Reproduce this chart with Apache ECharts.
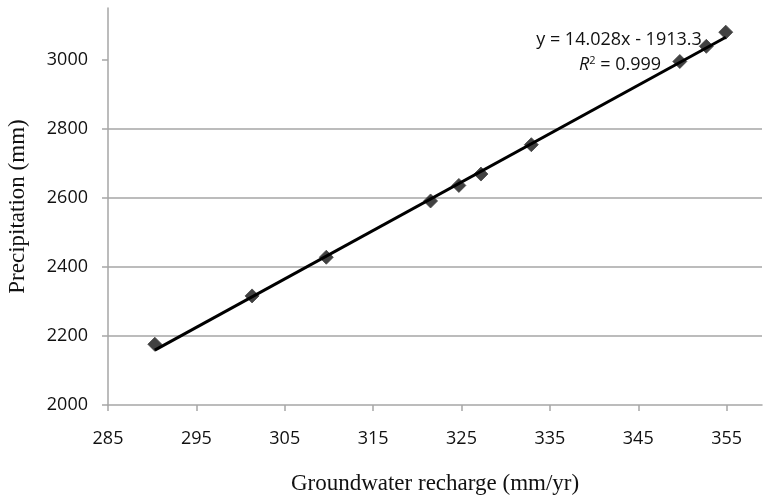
<!DOCTYPE html>
<html>
<head>
<meta charset="utf-8">
<script src="https://cdn.jsdelivr.net/npm/echarts@6/dist/echarts.min.js"></script>
<style>
html,body{margin:0;padding:0;background:#fff;}
#chart{width:763px;height:499px;}
</style>
</head>
<body>
<div id="chart"></div>
<script>
// Data
var recharge = [290.3, 301.3, 309.7, 321.5, 324.7, 327.2, 332.9, 349.7, 352.7, 354.9];
var precipitation = [2176, 2316, 2428, 2591, 2636, 2669, 2754, 2995, 3039, 3080];
var xTicks = [285, 295, 305, 315, 325, 335, 345, 355];
var yTicks = [2000, 2200, 2400, 2600, 2800, 3000];
var slope = 14.028;
var intercept = -1913.3;
var eqLine1 = 'y = 14.028x - 1913.3';
var eqR2 = '0.999';

var points = recharge.map(function (x, i) { return [x, precipitation[i]]; });
var xMin = Math.min.apply(null, recharge), xMax = Math.max.apply(null, recharge);
var trend = [[xMin, slope * xMin + intercept], [xMax, slope * xMax + intercept]];

var chart = echarts.init(document.getElementById('chart'));
var gridCol = '#a6a6a6';
var txt = '#111';
chart.setOption({
  animation: false,
  backgroundColor: '#fff',
  grid: { left: 108, right: 1, top: 8, bottom: 94, containLabel: false, outerBoundsMode: 'none' },
  xAxis: {
    type: 'value', min: 285, max: 359, interval: 10,
    name: 'Groundwater recharge (mm/yr)', nameLocation: 'middle', nameGap: 67,
    nameTextStyle: { fontFamily: 'Liberation Serif', fontSize: 23, color: txt },
    axisLine: { show: true, lineStyle: { color: gridCol, width: 1.5 } },
    axisTick: { show: true, length: 6, customValues: xTicks, lineStyle: { color: gridCol, width: 1.5 } },
    axisLabel: { customValues: xTicks, margin: 25, fontFamily: 'Open Sans', fontSize: 18, color: txt,
      formatter: function (v) { return String(v); } },
    splitLine: { show: false }
  },
  yAxis: {
    type: 'value', min: 2000, max: 3150, interval: 200,
    name: 'Precipitation (mm)', nameLocation: 'middle', nameGap: 79,
    nameTextStyle: { fontFamily: 'Liberation Serif', fontSize: 23, color: txt },
    axisLine: { show: true, lineStyle: { color: gridCol, width: 1.5 } },
    axisTick: { show: true, length: 6, customValues: yTicks, lineStyle: { color: gridCol, width: 1.5 } },
    axisLabel: { customValues: yTicks, margin: 20, fontFamily: 'Open Sans', fontSize: 18, color: txt,
      formatter: function (v) { return String(v); } },
    splitLine: { show: true, showMinLine: false, showMaxLine: false, lineStyle: { color: gridCol, width: 1.5 } }
  },
  series: [
    {
      type: 'scatter', data: points, symbol: 'diamond', symbolSize: 14,
      itemStyle: { color: '#111', borderColor: '#444', borderWidth: 1 }, z: 2
    },
    {
      type: 'line', data: trend, showSymbol: false, symbol: 'none',
      lineStyle: { color: '#000', width: 3 }, z: 3, silent: true
    }
  ],
  graphic: [
    {
      type: 'text', x: 619, y: 40,
      style: { text: eqLine1, fontFamily: 'Open Sans', fontSize: 18, fill: txt, align: 'center', verticalAlign: 'middle' }
    },
    {
      type: 'text', x: 620, y: 65,
      style: {
        text: '{i|R}{s|2} = ' + eqR2,
        fontFamily: 'Open Sans', fontSize: 18, fill: txt, align: 'center', verticalAlign: 'middle',
        rich: {
          i: { fontFamily: 'Open Sans', fontStyle: 'italic', fontSize: 18, fill: txt },
          s: { fontFamily: 'Open Sans', fontSize: 11, fill: txt, verticalAlign: 'top', padding: [0, 0, 8, 0] }
        }
      }
    }
  ]
});
</script>
</body>
</html>
